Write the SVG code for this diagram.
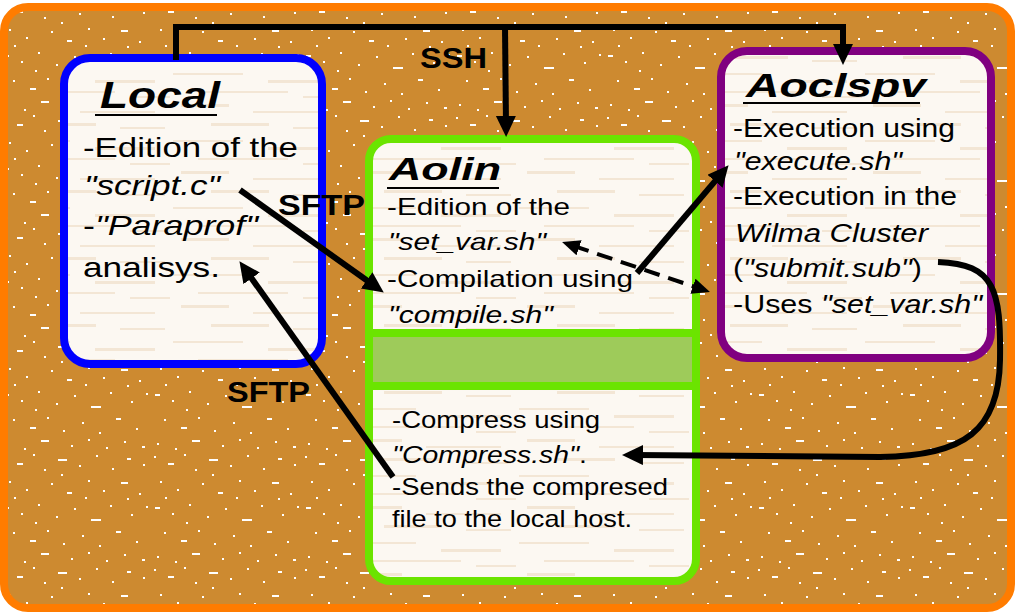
<svg xmlns="http://www.w3.org/2000/svg" width="1017" height="616" viewBox="0 0 1017 616">
<style>
.t{font-family:"Liberation Sans",Arial,sans-serif;fill:#000}
.b28{font-size:28px}
.b25{font-size:25px}
.b24{font-size:24px}
.i{font-style:italic}
.ttl{font-weight:bold;font-style:italic}
.lbl{font-family:"Liberation Sans",Arial,sans-serif;font-weight:bold;font-size:30px;fill:#000}
.conn{fill:none;stroke:#000;stroke-width:6}
.ul{stroke:#000;stroke-width:2}
</style>
<defs>
<pattern id="speck" width="151" height="113" patternUnits="userSpaceOnUse">
<rect width="151" height="113" fill="#CD8A30"/>
<g fill="#fff">
<rect x="3" y="4" width="2" height="2"/><rect x="17" y="11" width="6" height="2"/><rect x="33" y="2" width="2" height="2"/>
<rect x="44" y="17" width="2" height="2"/><rect x="58" y="7" width="9" height="2"/><rect x="79" y="13" width="2" height="2"/>
<rect x="96" y="3" width="2" height="2"/><rect x="112" y="16" width="2" height="2"/><rect x="127" y="6" width="4" height="2"/>
<rect x="143" y="12" width="2" height="2"/><rect x="9" y="29" width="2" height="2"/><rect x="26" y="37" width="2" height="2"/>
<rect x="51" y="31" width="2" height="2"/><rect x="67" y="40" width="5" height="2"/><rect x="88" y="28" width="2" height="2"/>
<rect x="103" y="38" width="2" height="2"/><rect x="121" y="30" width="7" height="2"/><rect x="139" y="41" width="2" height="2"/>
<rect x="4" y="55" width="5" height="2"/><rect x="21" y="61" width="2" height="2"/><rect x="38" y="52" width="2" height="2"/>
<rect x="56" y="64" width="2" height="2"/><rect x="74" y="56" width="2" height="2"/><rect x="91" y="67" width="10" height="2"/>
<rect x="110" y="53" width="2" height="2"/><rect x="131" y="62" width="2" height="2"/><rect x="146" y="54" width="2" height="2"/>
<rect x="13" y="80" width="2" height="2"/><rect x="30" y="88" width="6" height="2"/><rect x="47" y="78" width="2" height="2"/>
<rect x="63" y="91" width="2" height="2"/><rect x="82" y="83" width="2" height="2"/><rect x="99" y="93" width="2" height="2"/>
<rect x="116" y="79" width="5" height="2"/><rect x="136" y="89" width="2" height="2"/><rect x="6" y="104" width="2" height="2"/>
<rect x="24" y="109" width="2" height="2"/><rect x="41" y="101" width="8" height="2"/><rect x="71" y="106" width="2" height="2"/>
<rect x="88" y="100" width="2" height="2"/><rect x="106" y="108" width="2" height="2"/><rect x="124" y="102" width="2" height="2"/>
<rect x="142" y="107" width="3" height="2"/><rect x="61" y="22" width="2" height="2"/><rect x="35" y="70" width="2" height="2"/>
<rect x="127" y="46" width="2" height="2"/><rect x="85" y="45" width="2" height="2"/><rect x="14" y="45" width="2" height="2"/>
</g>
</pattern>
<pattern id="wood" width="173" height="67" patternUnits="userSpaceOnUse">
<rect width="173" height="67" fill="#FCF8F2"/>
<g fill="#E3C59C" opacity="0.35">
<rect x="0" y="6" width="70" height="2"/><rect x="95" y="13" width="60" height="3"/>
<rect x="25" y="24" width="90" height="2"/><rect x="8" y="37" width="48" height="3"/>
<rect x="80" y="44" width="75" height="2"/><rect x="38" y="56" width="58" height="3"/>
<rect x="130" y="29" width="40" height="2"/><rect x="120" y="60" width="45" height="2"/>
</g>
</pattern>
<marker id="ah" markerUnits="userSpaceOnUse" markerWidth="22" markerHeight="22" viewBox="0 0 22 22" refX="9" refY="10" orient="auto-start-reverse">
<path d="M0,0 L21,10 L0,20 z" fill="#000"/>
</marker>
<marker id="ahs" markerUnits="userSpaceOnUse" markerWidth="20" markerHeight="18" viewBox="0 0 20 18" refX="6" refY="8" orient="auto-start-reverse">
<path d="M0,0 L18,8 L0,16 z" fill="#000"/>
</marker>
</defs>

<g id="background">
<rect x="4" y="7" width="1007" height="601" rx="24" fill="url(#speck)" stroke="#FF7C00" stroke-width="8"/>
</g>

<g id="local">
<rect x="64" y="58" width="258" height="306" rx="26" fill="url(#wood)" stroke="#0000FF" stroke-width="8"/>
<text class="t ttl" x="100" y="108" font-size="37" textLength="120" lengthAdjust="spacingAndGlyphs">Local</text>
<line class="ul" x1="95" y1="115" x2="217" y2="115"/>
<text class="t b28" x="83" y="157" textLength="215" lengthAdjust="spacingAndGlyphs">-Edition of the</text>
<text class="t b28 i" x="84" y="195" textLength="136" lengthAdjust="spacingAndGlyphs">"script.c"</text>
<text class="t b28" x="83" y="235" textLength="175" lengthAdjust="spacingAndGlyphs">-<tspan class="i">"Paraprof"</tspan></text>
<text class="t b28" x="83" y="277" textLength="137" lengthAdjust="spacingAndGlyphs">analisys.</text>
</g>

<g id="aolin">
<rect x="369" y="139" width="327" height="442" rx="22" fill="url(#wood)" stroke="#6BE400" stroke-width="8"/>
<rect x="373" y="333" width="319" height="53" fill="#9ECB5A"/>
<line x1="369" y1="333" x2="696" y2="333" stroke="#6BE400" stroke-width="8"/>
<line x1="369" y1="386" x2="696" y2="386" stroke="#6BE400" stroke-width="8"/>
<text class="t ttl" x="389" y="180" font-size="32" textLength="112" lengthAdjust="spacingAndGlyphs">Aolin</text>
<line class="ul" x1="387" y1="188" x2="499" y2="188"/>
<text class="t b24" x="387" y="215" textLength="183" lengthAdjust="spacingAndGlyphs">-Edition of the</text>
<text class="t b24 i" x="388" y="250" textLength="158" lengthAdjust="spacingAndGlyphs">"set_var.sh"</text>
<text class="t b24" x="387" y="287" textLength="246" lengthAdjust="spacingAndGlyphs">-Compilation using</text>
<text class="t b24 i" x="388" y="323" textLength="165" lengthAdjust="spacingAndGlyphs">"compile.sh"</text>
<text class="t b24" x="392" y="428" textLength="208" lengthAdjust="spacingAndGlyphs">-Compress using</text>
<text class="t b24" x="392" y="463" textLength="195" lengthAdjust="spacingAndGlyphs"><tspan class="i">"Compress.sh"</tspan>.</text>
<text class="t b24" x="392" y="495" textLength="276" lengthAdjust="spacingAndGlyphs">-Sends the compresed</text>
<text class="t b24" x="392" y="527" textLength="240" lengthAdjust="spacingAndGlyphs">file to the local host.</text>
</g>

<g id="aoclspv">
<rect x="721" y="51" width="270" height="307" rx="26" fill="url(#wood)" stroke="#800080" stroke-width="8"/>
<text class="t ttl" x="746" y="97" font-size="34" textLength="180" lengthAdjust="spacingAndGlyphs">Aoclspv</text>
<line class="ul" x1="743" y1="103" x2="920" y2="103"/>
<text class="t b25" x="733" y="137" textLength="222" lengthAdjust="spacingAndGlyphs">-Execution using</text>
<text class="t b25 i" x="734" y="170" textLength="168" lengthAdjust="spacingAndGlyphs">"execute.sh"</text>
<text class="t b25" x="733" y="205" textLength="224" lengthAdjust="spacingAndGlyphs">-Execution in the</text>
<text class="t b25 i" x="735" y="242" textLength="193" lengthAdjust="spacingAndGlyphs">Wilma Cluster</text>
<text class="t b25" x="733" y="277" textLength="189" lengthAdjust="spacingAndGlyphs">(<tspan class="i">"submit.sub"</tspan>)</text>
<text class="t b25" x="733" y="313" textLength="249" lengthAdjust="spacingAndGlyphs">-Uses <tspan class="i">"set_var.sh"</tspan></text>
</g>

<g id="connectors">
<path class="conn" d="M176,60 V27 H843 V53" marker-end="url(#ah)"/>
<path class="conn" d="M505,27 L506,125" marker-end="url(#ah)"/>
<text class="lbl" x="420" y="68" textLength="67" lengthAdjust="spacingAndGlyphs">SSH</text>
<path class="conn" d="M240,190 L374,285.5" marker-end="url(#ah)"/>
<text class="lbl" x="278" y="215" textLength="87" lengthAdjust="spacingAndGlyphs">SFTP</text>
<path class="conn" d="M393,477 L246.4,271" marker-end="url(#ah)"/>
<text class="lbl" x="227" y="402" textLength="83" lengthAdjust="spacingAndGlyphs">SFTP</text>
<path class="conn" d="M637,273 L720.8,174.4" marker-end="url(#ah)"/>
<path d="M573.4,245.8 L698.6,288.2" fill="none" stroke="#000" stroke-width="4" stroke-dasharray="16 9" marker-start="url(#ahs)" marker-end="url(#ahs)"/>
<path class="conn" stroke-width="7" d="M938,262 C995,264 1001,290 1000,360 C999,430 965,456 880,457 L634,455" marker-end="url(#ah)"/>
</g>
</svg>
